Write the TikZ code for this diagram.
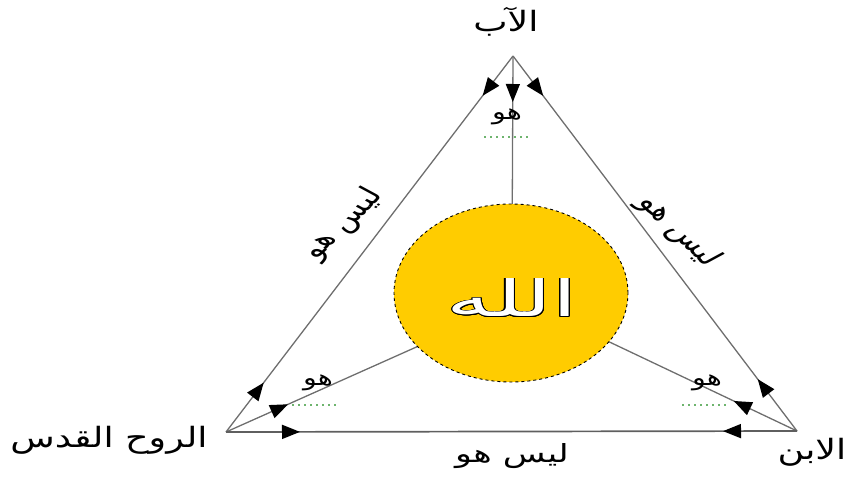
\documentclass[tikz,border=0pt]{standalone}
\usepackage{fontspec}
\usepackage{contour}
\newfontfamily\arabicfont[Script=Arabic]{DejaVu Sans}
\TeXXeTstate=1
\usetikzlibrary{arrows.meta,decorations.markings,shapes.geometric}
\contourlength{0.6pt}
\definecolor{linegray}{RGB}{110,110,110}
\definecolor{godfill}{RGB}{255,204,0}
\definecolor{dotgreen}{RGB}{110,180,110}
\tikzset{
  edge/.style={draw=linegray, line width=1.3pt},
  headA/.style={postaction={decorate,decoration={markings,mark=at position #1 with {\arrow[black]{Triangle[length=18pt,width=14pt]}}}}},
  headB/.style={postaction={decorate,decoration={markings,mark=at position #1 with {\arrowreversed[black]{Triangle[length=18pt,width=14pt]}}}}},
  vlabel/.style={font=\arabicfont\fontsize{28}{32}\selectfont, inner sep=0pt, xscale=1.3},
  elabel/.style={font=\arabicfont\fontsize{25}{30}\selectfont, inner sep=0pt, xscale=1.4},
  slabel/.style={font=\arabicfont\fontsize{22}{26}\selectfont, inner sep=0pt, xscale=1.3},
  greendot/.style={draw=dotgreen, line width=1.2pt, dash pattern=on 1.5pt off 4.5pt},
}
\begin{document}
\begin{tikzpicture}[x=1pt,y=-1pt]
\useasboundingbox (0,0) rectangle (847,480);
\coordinate (F) at (513,56);
\coordinate (S) at (797,431);
\coordinate (H) at (226,432);
\coordinate (gT) at (512,260);
\coordinate (gL) at (450,332);
\coordinate (gR) at (580,328);
% inner lines
\draw[edge, headA=46pt] (F) -- (gT);
\draw[edge, headA=68pt] (H) -- (gL);
\draw[edge, headA=70pt] (S) -- (gR);
% outer edges
\draw[edge, headA=50pt, headB=-62pt] (F) -- (H);
\draw[edge, headA=50pt, headB=-65pt] (F) -- (S);
\draw[edge, line width=1.7pt, draw={rgb,255:red,95;green,95;blue,95}, headA=74pt, headB=-74pt] (H) -- (S);
% central ellipse
\node[ellipse, draw=black, dashed, line width=0.9pt, fill=godfill,
      minimum width=234pt, minimum height=178pt] (god) at (511,293) {};
\node[font=\arabicfont\fontsize{50}{56}\selectfont, inner sep=0pt, xscale=1.8] (godtxt) at (512,298)
  {\contour{black}{\textcolor{white}{\beginR الله\endR}}};
% vertex labels
\node[vlabel] (lF) at (506,22) {\beginR الآب\endR};
\node[vlabel] (lS) at (812,452) {\beginR الابن\endR};
\node[vlabel] (lH) at (109,440) {\beginR الروح القدس\endR};
% edge labels
\node[elabel, rotate=53] (eL) at (343,224) {\beginR ليس هو\endR};
\node[elabel, rotate=-53] (eR) at (679,231) {\beginR ليس هو\endR};
\node[elabel] (eB) at (512,456) {\beginR ليس هو\endR};
% small labels
\node[slabel] (sT) at (507,117) {\beginR هو\endR};
\node[slabel] (sL) at (318,383) {\beginR هو\endR};
\node[slabel] (sR) at (707,383) {\beginR هو\endR};
\draw[greendot] (484,137) -- (532,137);
\draw[greendot] (292,405) -- (340,405);
\draw[greendot] (682,405) -- (730,405);
\end{tikzpicture}
\end{document}
